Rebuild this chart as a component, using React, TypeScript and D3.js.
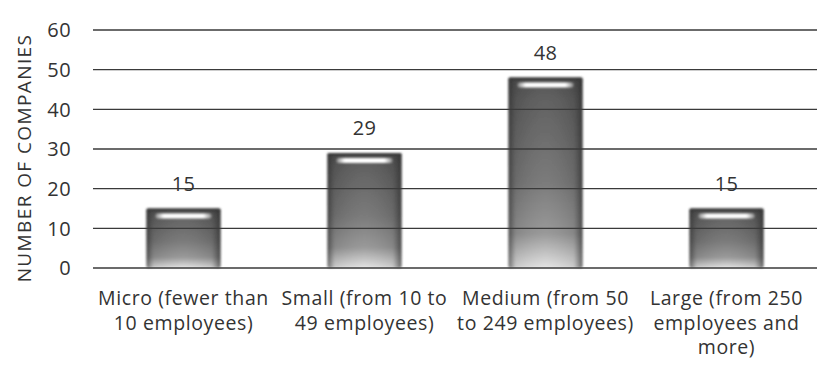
import React from "react";
import * as d3 from "d3";

// Company counts by size class
const categories: string[][] = [
  ["Micro (fewer than", "10 employees)"],
  ["Small (from 10 to", "49 employees)"],
  ["Medium (from 50", "to 249 employees)"],
  ["Large (from 250", "employees and", "more)"],
];
const values: number[] = [15, 29, 48, 15];
const yTicks: number[] = [0, 10, 20, 30, 40, 50, 60];
const yTitle = "NUMBER OF COMPANIES";

const W = 826;
const H = 369;
const margin = { left: 93, right: 9, top: 30, bottom: 101 };
const FONT = "'Open Sans', sans-serif";

export default function App() {
  const x = d3
    .scaleBand<number>()
    .domain(values.map((_, i) => i))
    .range([margin.left, W - margin.right])
    .paddingInner(0.59)
    .paddingOuter(0.295);
  const y = d3
    .scaleLinear()
    .domain([0, 60])
    .range([H - margin.bottom, margin.top]);
  const bw = x.bandwidth();

  return (
    <svg
      width={W}
      height={H}
      style={{ position: "absolute", left: 0, top: 0, background: "#fff" }}
    >
      <defs>
        <linearGradient id="barV" x1="0" y1="0" x2="0" y2="1">
          <stop offset="0" stopColor="#4a4a4a" />
          <stop offset="0.12" stopColor="#585858" />
          <stop offset="0.55" stopColor="#737373" />
          <stop offset="0.82" stopColor="#939393" />
          <stop offset="1" stopColor="#e2e2e2" />
        </linearGradient>
        <linearGradient id="barH" x1="0" y1="0" x2="1" y2="0">
          <stop offset="0" stopColor="#222" stopOpacity="0.6" />
          <stop offset="0.1" stopColor="#333" stopOpacity="0.12" />
          <stop offset="0.5" stopColor="#fff" stopOpacity="0.06" />
          <stop offset="0.88" stopColor="#333" stopOpacity="0.12" />
          <stop offset="1" stopColor="#222" stopOpacity="0.65" />
        </linearGradient>
        <linearGradient id="hl" x1="0" y1="0" x2="1" y2="0">
          <stop offset="0" stopColor="#fff" stopOpacity="0.3" />
          <stop offset="0.15" stopColor="#fff" stopOpacity="1" />
          <stop offset="0.85" stopColor="#fff" stopOpacity="1" />
          <stop offset="1" stopColor="#fff" stopOpacity="0.3" />
        </linearGradient>
        <filter id="soft" x="-10%" y="-10%" width="120%" height="120%">
          <feGaussianBlur stdDeviation="0.8" />
        </filter>
        <filter id="softer" x="-20%" y="-100%" width="140%" height="300%">
          <feGaussianBlur stdDeviation="0.9" />
        </filter>
      </defs>

      {/* bars */}
      {values.map((v, i) => {
        const bx = x(i)!;
        const by = y(v);
        const bh = y(0) - by;
        return (
          <g key={i}>
            <g filter="url(#soft)">
              <rect x={bx} y={by} width={bw} height={bh} rx={2} fill="url(#barV)" />
              <rect x={bx} y={by} width={bw} height={bh} rx={2} fill="url(#barH)" />
              <rect x={bx} y={by} width={bw} height={3} rx={1.5} fill="#3a3a3a" />
            </g>
            <rect
              x={bx + bw * 0.12}
              y={by + 5}
              width={bw * 0.76}
              height={5}
              rx={2.5}
              fill="url(#hl)"
              filter="url(#softer)"
            />
          </g>
        );
      })}

      {/* gridlines drawn over the bars */}
      {yTicks.map((t) => (
        <line
          key={t}
          x1={margin.left}
          x2={W - margin.right}
          y1={y(t)}
          y2={y(t)}
          stroke="#3a3a3a"
          strokeWidth={1.4}
        />
      ))}

      {/* tick labels */}
      {yTicks.map((t) => (
        <text
          key={t}
          x={71}
          y={y(t)}
          dy="0.36em"
          textAnchor="end"
          fontFamily={FONT}
          fontSize={20}
          letterSpacing={0.4}
          fill="#333"
        >
          {t}
        </text>
      ))}

      {/* axis title */}
      <text
        transform={`translate(24,158) rotate(-90)`}
        textAnchor="middle"
        dy="0.36em"
        fontFamily={FONT}
        fontSize={19}
        letterSpacing={1.4}
        fill="#333"
      >
        {yTitle}
      </text>

      {/* value labels */}
      {values.map((v, i) => (
        <text
          key={i}
          x={x(i)! + bw / 2}
          y={y(v) - 18}
          textAnchor="middle"
          fontFamily={FONT}
          fontSize={20}
          letterSpacing={0.4}
          fill="#333"
        >
          {v}
        </text>
      ))}

      {/* category labels */}
      {categories.map((lines, i) => (
        <text
          key={i}
          x={x(i)! + bw / 2}
          y={305}
          textAnchor="middle"
          fontFamily={FONT}
          fontSize={19.5}
          letterSpacing={0.6}
          fill="#333"
        >
          {lines.map((l, j) => (
            <tspan key={j} x={x(i)! + bw / 2} dy={j === 0 ? 0 : 24.5}>
              {l}
            </tspan>
          ))}
        </text>
      ))}
    </svg>
  );
}
